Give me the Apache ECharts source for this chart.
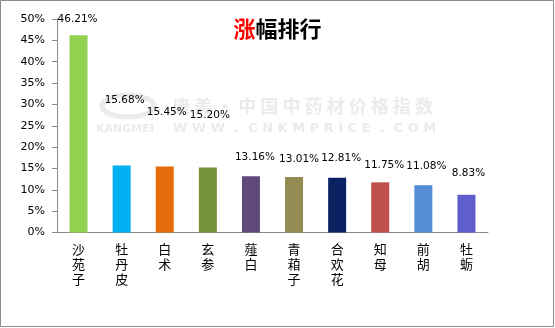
<!DOCTYPE html>
<html>
<head>
<meta charset="utf-8">
<script src="https://cdn.jsdelivr.net/npm/echarts@6/dist/echarts.min.js"></script>
<style>
  html, body { margin: 0; padding: 0; background: #fff; }
  #chart { width: 555px; height: 328px; }
</style>
</head>
<body>
<div id="chart"></div>
<script>
// Herbs ranked by price rise (percent)
const herbs = ['沙苑子', '牡丹皮', '白术', '玄参', '薤白', '青葙子', '合欢花', '知母', '前胡', '牡蛎'];
const risePct = [46.21, 15.68, 15.45, 15.20, 13.16, 13.01, 12.81, 11.75, 11.08, 8.83];
const yTicks = [0, 5, 10, 15, 20, 25, 30, 35, 40, 45, 50];

// One colour per bar
const barColors = ['#92D050', '#00B0F0', '#E46C0A', '#77933C', '#604A7B',
                   '#948A54', '#0A2262', '#C0504D', '#558ED5', '#5E5ECF'];
// Per-bar nudges for the value labels so neighbours don't collide
const labelNudge = [[-1, -5], [3, -55], [2, -44], [2, -42], [4, -9],
                    [5, -7], [4, -9], [4, -7], [3, -8], [2, -11]];

const chart = echarts.init(document.getElementById('chart'), null, { renderer: 'canvas' });

const wmColor = '#ebebeb';

chart.setOption({
  animation: false,
  backgroundColor: '#ffffff',
  title: {
    text: '{r|涨}{k|幅排行}',
    left: 'center',
    top: 13,
    textStyle: {
      rich: {
        r: { color: '#ff0000', fontSize: 22, fontWeight: 'bold', fontFamily: 'Noto Sans CJK SC' },
        k: { color: '#000000', fontSize: 22, fontWeight: 'bold', fontFamily: 'Noto Sans CJK SC' }
      }
    }
  },
  graphic: [
    {
      type: 'rect', silent: true, z: 100,
      shape: { x: 0.5, y: 0.5, width: 553, height: 326 },
      style: { fill: 'none', stroke: '#8c8c8c', lineWidth: 1 }
    },
    {
      type: 'ellipse', silent: true, z: -1,
      shape: { cx: 128, cy: 106, rx: 26, ry: 11 },
      style: { fill: 'none', stroke: wmColor, lineWidth: 5 }
    },
    {
      type: 'text', silent: true, z: -1,
      style: {
        x: 172, y: 106, text: '康 美 · 中 国 中 药 材 价 格 指 数',
        fill: wmColor, fontSize: 18, fontWeight: 'bold',
        fontFamily: 'Noto Sans CJK SC', verticalAlign: 'middle'
      }
    },
    {
      type: 'text', silent: true, z: -1,
      style: {
        x: 96, y: 129, text: 'KANGMEI',
        fill: wmColor, fontSize: 11, fontWeight: 'bold',
        fontFamily: 'DejaVu Sans', verticalAlign: 'middle'
      }
    },
    {
      type: 'text', silent: true, z: -1,
      style: {
        x: 173, y: 129, text: 'W W W  .  C N K M P R I C E  .  C O M',
        fill: wmColor, fontSize: 13, fontWeight: 'bold',
        fontFamily: 'DejaVu Sans', verticalAlign: 'middle'
      }
    }
  ],
  grid: { left: 57, right: 67, top: 19, bottom: 95.5, containLabel: false },
  xAxis: {
    type: 'category',
    data: herbs,
    axisLine: { lineStyle: { color: '#8a8a8a', width: 1 } },
    axisTick: { show: false },
    axisLabel: {
      interval: 0,
      margin: 9,
      color: '#000',
      fontSize: 13,
      lineHeight: 15,
      fontFamily: 'Noto Sans CJK SC',
      formatter: v => v.split('').join('\n')
    }
  },
  yAxis: {
    type: 'value',
    min: yTicks[0],
    max: yTicks[yTicks.length - 1],
    interval: yTicks[1] - yTicks[0],
    axisLine: { show: true, lineStyle: { color: '#8a8a8a', width: 1 } },
    axisTick: { show: true, length: 5, lineStyle: { color: '#8a8a8a' } },
    splitLine: { show: false },
    axisLabel: {
      margin: 12,
      color: '#000',
      fontSize: 11,
      fontFamily: 'DejaVu Sans',
      formatter: v => v + '%'
    }
  },
  series: [{
    type: 'bar',
    barWidth: 18,
    data: risePct.map((v, i) => ({
      value: v,
      itemStyle: { color: barColors[i] },
      label: { offset: labelNudge[i] }
    })),
    label: {
      show: true,
      position: 'top',
      distance: 5,
      color: '#000',
      fontSize: 10.5,
      fontFamily: 'DejaVu Sans',
      formatter: p => p.value.toFixed(2) + '%'
    }
  }]
});
</script>
</body>
</html>
